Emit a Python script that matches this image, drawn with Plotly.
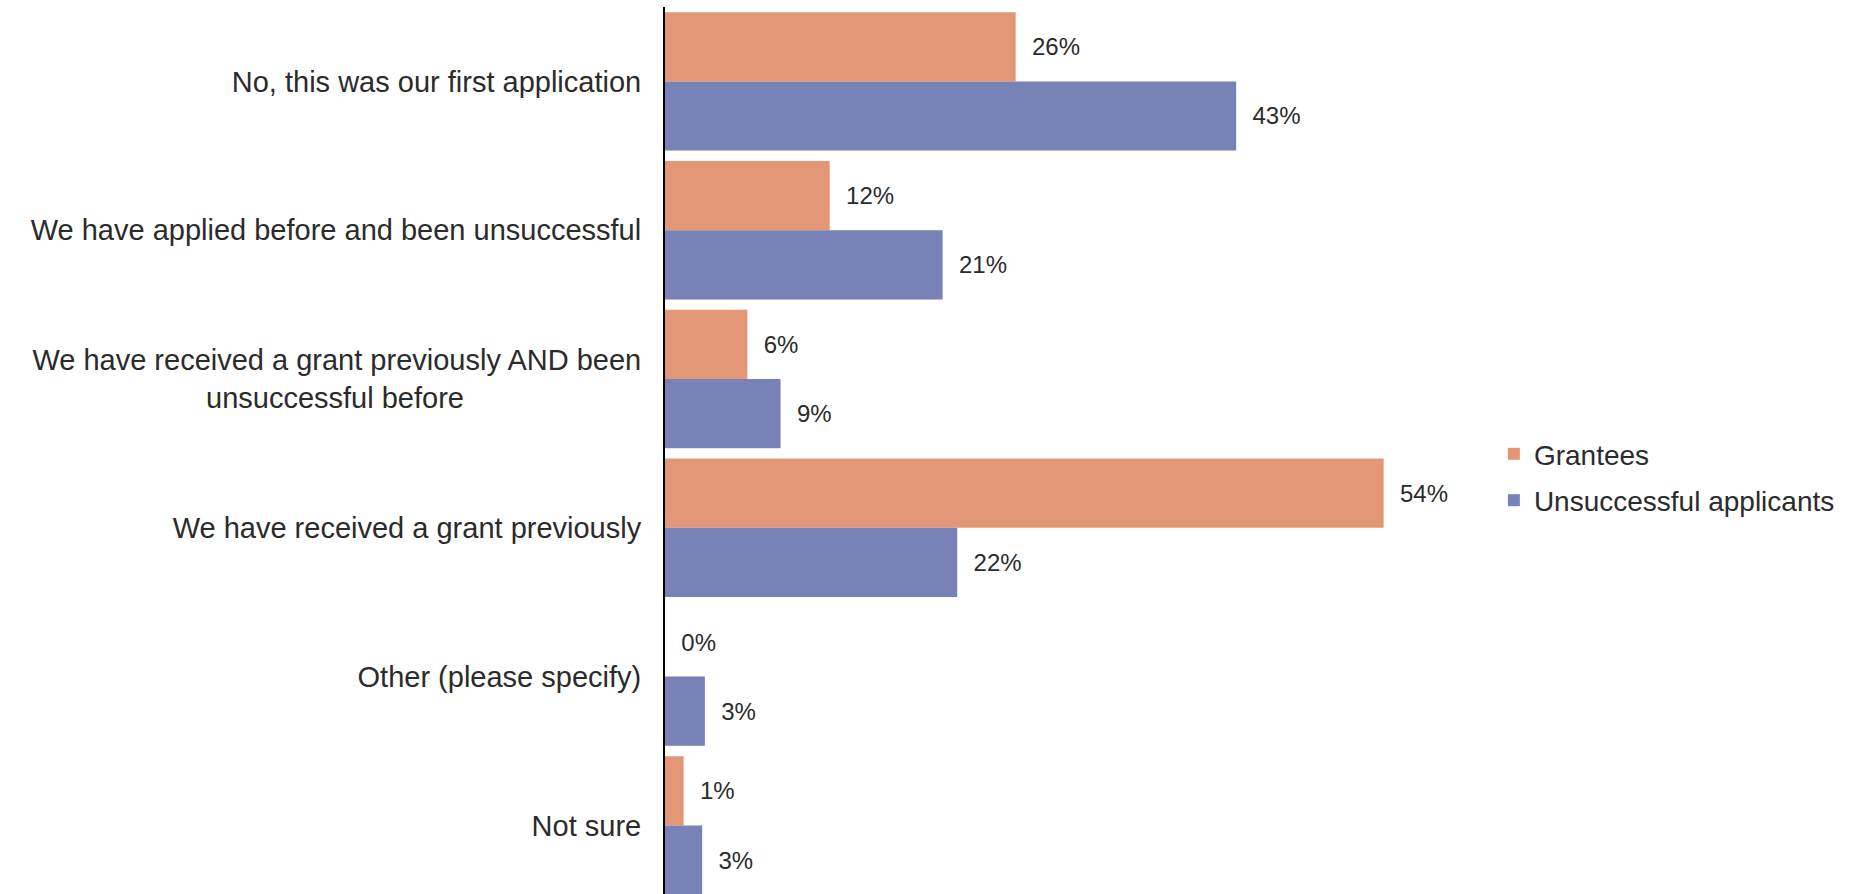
import plotly.graph_objects as go

NBSP = "&nbsp;"
categories = [
    "No, this was our first application",
    "We have applied before and been unsuccessful",
    "We have received a grant previously AND been<br>unsuccessful before" + NBSP * 22,
    "We have received a grant previously",
    "Other (please specify)",
    "Not sure",
]
grantees = [26.4, 12.4, 6.2, 54.1, 0.0, 1.4]
unsuccessful = [43.0, 20.9, 8.7, 22.0, 3.0, 2.8]

ORANGE = "#E39776"
BLUE = "#7882B6"
TXT = "#2b2b2b"
FONT = "Liberation Sans, Arial, sans-serif"

fig = go.Figure()
fig.add_trace(go.Bar(
    y=categories, x=grantees, orientation="h", name="Grantees",
    legendgroup="g",
    marker=dict(color=ORANGE, line=dict(width=0)),
    texttemplate=NBSP * 2 + "%{x:.0f}%", textposition="outside",
    textfont=dict(size=24, color=TXT, family=FONT), cliponaxis=False,
))
fig.add_trace(go.Bar(
    y=categories, x=unsuccessful, orientation="h", name="Unsuccessful applicants",
    legendgroup="u",
    marker=dict(color=BLUE, line=dict(width=0)),
    texttemplate=NBSP * 2 + "%{x:.0f}%", textposition="outside",
    textfont=dict(size=24, color=TXT, family=FONT), cliponaxis=False,
))

fig.update_layout(
    width=1875, height=894,
    margin=dict(l=665, r=413, t=7, b=0),
    barmode="group", bargap=0.07, bargroupgap=0,
    plot_bgcolor="white", paper_bgcolor="white",
    font=dict(family=FONT, color=TXT),
    showlegend=True,
    legend=dict(x=1.04, xanchor="left", y=0.470, yanchor="middle",
                font=dict(size=28, color=TXT, family=FONT),
                traceorder="grouped", tracegroupgap=7,
                bgcolor="rgba(0,0,0,0)"),
    xaxis=dict(range=[0, 60], showgrid=False, zeroline=False, showline=False,
               showticklabels=False, ticks=""),
    yaxis=dict(range=[5.461, -0.5], showgrid=False, zeroline=False,
               showline=True, linecolor="black", linewidth=2,
               ticks="", ticklabelstandoff=16,
               tickfont=dict(size=29, color=TXT, family=FONT)),
)

fig.write_html("out.html")
